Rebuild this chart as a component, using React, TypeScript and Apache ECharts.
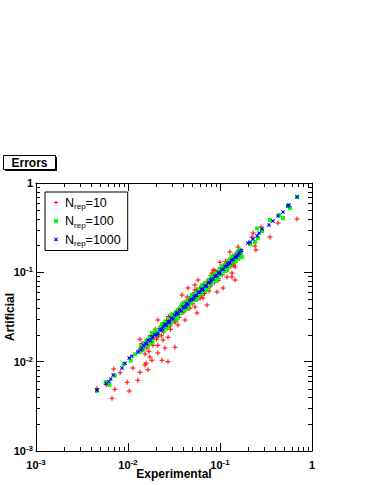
import React, { useEffect, useRef } from "react";
import * as echarts from "echarts";

const SERIES_NAMES = ["N_rep=10", "N_rep=100", "N_rep=1000"];
const AXIS_MIN = 0.001;
const AXIS_MAX = 1;
const MINOR_TICKS = [
  0.002, 0.003, 0.004, 0.005, 0.006, 0.007, 0.008, 0.009,
  0.02, 0.03, 0.04, 0.05, 0.06, 0.07, 0.08, 0.09,
  0.2, 0.3, 0.4, 0.5, 0.6, 0.7, 0.8, 0.9,
];

const RED_POINTS: [number, number][] = [
  [0.0046, 0.005], [0.0067, 0.0039], [0.0103, 0.0047], [0.0098, 0.0059], [0.0128, 0.0062],
  [0.0072, 0.0049], [0.0058, 0.0055], [0.0082, 0.0075], [0.0135, 0.0076], [0.0157, 0.0096],
  [0.0165, 0.0081], [0.0113, 0.0085], [0.0153, 0.0122], [0.0169, 0.0131], [0.0187, 0.0153],
  [0.0211, 0.0153], [0.0135, 0.0178], [0.0132, 0.0135], [0.007, 0.0083], [0.0145, 0.0135],
  [0.0173, 0.0113], [0.0234, 0.0104], [0.0272, 0.01], [0.0211, 0.0125], [0.0252, 0.0142],
  [0.024, 0.0175], [0.0207, 0.0188], [0.0211, 0.0292], [0.0349, 0.0257], [0.0417, 0.0292],
  [0.0535, 0.041], [0.0562, 0.035], [0.0324, 0.0145], [0.0272, 0.0188], [0.0182, 0.0104],
  [0.0153, 0.0092], [0.128, 0.169], [0.157, 0.192], [0.1, 0.13], [0.084, 0.106],
  [0.119, 0.0886], [0.135, 0.0886], [0.146, 0.115], [0.0577, 0.082], [0.0449, 0.0667],
  [0.108, 0.0667], [0.0927, 0.0601], [0.0653, 0.0515], [0.0723, 0.0431], [0.0562, 0.0601],
  [0.0535, 0.0721], [0.687, 0.395], [0.427, 0.356], [0.349, 0.248], [0.246, 0.178],
  [0.24, 0.197], [0.229, 0.275], [0.279, 0.322], [0.222, 0.249], [0.0386, 0.0557],
  [0.0607, 0.0515], [0.0535, 0.0634], [0.082, 0.098], [0.146, 0.082], [0.135, 0.098],
  [0.0252, 0.0272],
  [0.019, 0.02], [0.0205, 0.0178], [0.0225, 0.0245], [0.0245, 0.0215], [0.0262, 0.029],
  [0.0285, 0.025], [0.03, 0.033], [0.0318, 0.028], [0.034, 0.0375], [0.036, 0.0315],
  [0.0385, 0.0425], [0.0405, 0.036], [0.043, 0.048], [0.0455, 0.04], [0.048, 0.053],
  [0.0505, 0.0445], [0.0535, 0.0595], [0.0565, 0.05], [0.06, 0.0665], [0.063, 0.0555],
  [0.0665, 0.074], [0.07, 0.0615], [0.074, 0.082], [0.078, 0.069], [0.082, 0.091],
  [0.0865, 0.0765], [0.091, 0.101], [0.096, 0.085], [0.101, 0.112], [0.1065, 0.094],
  [0.112, 0.124], [0.118, 0.104], [0.1245, 0.138], [0.131, 0.116], [0.138, 0.153],
  [0.145, 0.129], [0.153, 0.168], [0.161, 0.143],
  [0.0142, 0.016], [0.016, 0.0142], [0.0176, 0.0196], [0.0198, 0.023], [0.023, 0.0195],
  [0.0275, 0.032], [0.033, 0.028], [0.0395, 0.0455], [0.047, 0.0395], [0.056, 0.064],
  [0.068, 0.058], [0.08, 0.092], [0.095, 0.081], [0.115, 0.132], [0.14, 0.12],
  [0.029, 0.023], [0.044, 0.053], [0.076, 0.062], [0.088, 0.105],
];

const GREEN_POINTS: [number, number][] = [
  [0.0046, 0.0047], [0.0057, 0.0059], [0.0063, 0.0055], [0.0072, 0.007], [0.009, 0.0094],
  [0.0107, 0.0103], [0.012, 0.0121], [0.0135, 0.013], [0.015, 0.0155], [0.0182, 0.0209],
  [0.0198, 0.0212],
  [0.0138, 0.015], [0.0145, 0.0136], [0.0158, 0.017], [0.0165, 0.0152], [0.0172, 0.0185],
  [0.0178, 0.0162], [0.0192, 0.021],
  [0.0185, 0.017], [0.02, 0.0225], [0.0215, 0.0198], [0.0228, 0.0245], [0.024, 0.0222],
  [0.0255, 0.028], [0.0268, 0.025], [0.028, 0.03], [0.0292, 0.0268], [0.0305, 0.0335],
  [0.032, 0.0295], [0.0332, 0.0358], [0.0345, 0.0318], [0.0362, 0.0395], [0.0378, 0.035],
  [0.0392, 0.042], [0.041, 0.038], [0.0428, 0.0465], [0.0445, 0.041], [0.0465, 0.0505],
  [0.0485, 0.045], [0.0505, 0.0545], [0.0528, 0.0488], [0.055, 0.0595], [0.0572, 0.053],
  [0.0598, 0.065], [0.0622, 0.0575], [0.0648, 0.07], [0.0675, 0.062], [0.0702, 0.076],
  [0.0732, 0.068], [0.0765, 0.083], [0.0795, 0.0735], [0.083, 0.09], [0.0865, 0.08],
  [0.0905, 0.098], [0.094, 0.087], [0.0985, 0.106], [0.1025, 0.095], [0.107, 0.115],
  [0.1115, 0.103], [0.1165, 0.125], [0.121, 0.112], [0.1265, 0.135], [0.132, 0.122],
  [0.1375, 0.147], [0.143, 0.133], [0.15, 0.158], [0.156, 0.145], [0.163, 0.172],
  [0.169, 0.158], [0.165, 0.148],
  [0.0235, 0.0265], [0.0262, 0.0235], [0.0298, 0.0338], [0.0338, 0.03], [0.0385, 0.0435],
  [0.0438, 0.039], [0.0495, 0.056], [0.056, 0.05], [0.0635, 0.0718], [0.0718, 0.064],
  [0.081, 0.0915], [0.0915, 0.0815], [0.104, 0.117], [0.118, 0.105], [0.134, 0.15],
  [0.148, 0.133], [0.158, 0.172],
  [0.165, 0.178], [0.173, 0.148], [0.24, 0.218], [0.258, 0.242], [0.212, 0.207],
  [0.287, 0.29], [0.349, 0.385], [0.44, 0.44], [0.484, 0.405], [0.577, 0.525],
  [0.55, 0.555], [0.69, 0.7], [0.253, 0.31],
];

const BLUE_POINTS: [number, number][] = [
  [0.0046, 0.0048], [0.0058, 0.0057], [0.0062, 0.006], [0.0065, 0.0064], [0.0069, 0.0071],
  [0.0086, 0.0085], [0.0093, 0.0096], [0.0103, 0.011], [0.011, 0.0115], [0.0128, 0.0128],
  [0.0138, 0.0136], [0.0142, 0.0142], [0.0153, 0.0161], [0.0165, 0.0175], [0.0187, 0.0189],
  [0.0207, 0.0199],
  [0.0148, 0.015], [0.016, 0.0158], [0.0175, 0.0172], [0.0182, 0.0186],
  [0.0195, 0.0201], [0.0212, 0.0208], [0.0221, 0.0228], [0.023, 0.0225], [0.0242, 0.0246],
  [0.0251, 0.0262], [0.026, 0.0255], [0.0272, 0.028], [0.0285, 0.0281], [0.0296, 0.0305],
  [0.031, 0.03], [0.0322, 0.033], [0.0335, 0.0342], [0.035, 0.0345], [0.0366, 0.0378],
  [0.038, 0.0372], [0.0398, 0.041], [0.0415, 0.0405], [0.0432, 0.0445], [0.045, 0.044],
  [0.047, 0.0482], [0.049, 0.0498], [0.0512, 0.0505], [0.0535, 0.055], [0.0556, 0.0548],
  [0.058, 0.0595], [0.0605, 0.0598], [0.063, 0.0648], [0.0655, 0.065], [0.0685, 0.07],
  [0.0712, 0.0705], [0.0745, 0.0765], [0.0778, 0.077], [0.081, 0.0835], [0.0845, 0.084],
  [0.088, 0.0905], [0.092, 0.0915], [0.096, 0.0985], [0.1, 0.099], [0.1045, 0.1075],
  [0.109, 0.108], [0.1135, 0.116], [0.118, 0.117], [0.123, 0.1265], [0.1285, 0.1275],
  [0.134, 0.137], [0.14, 0.139], [0.146, 0.148], [0.152, 0.153], [0.158, 0.156],
  [0.165, 0.17], [0.172, 0.175],
  [0.0237, 0.0233], [0.0278, 0.0272], [0.0343, 0.0352], [0.0425, 0.0418], [0.0522, 0.053],
  [0.0642, 0.0632], [0.0795, 0.0805], [0.0985, 0.0965], [0.121, 0.1225], [0.149, 0.147],
  [0.161, 0.1635],
  [0.201, 0.213], [0.212, 0.218], [0.229, 0.236], [0.253, 0.255], [0.266, 0.275],
  [0.287, 0.306], [0.341, 0.339], [0.377, 0.375], [0.427, 0.427], [0.484, 0.473],
  [0.548, 0.552], [0.563, 0.567], [0.687, 0.697],
];

const FONT = "'Liberation Sans', Arial, Helvetica, sans-serif";
const PLUS = "path://M2,0H3V2H5V3H3V5H2V3H0V2H2Z";
const CROSS = "path://M0,1L1,0L2.5,1.5L4,0L5,1L3.5,2.5L5,4L4,5L2.5,3.5L1,5L0,4L1.5,2.5Z";

const tickLabel = (v: number) => {
  const e = Math.round(Math.log10(v));
  return e === 0 ? "{b|1}" : `{b|10}{s|${e}}`;
};

const labelRich = {
  b: { fontSize: 11, fontWeight: "bold" as const, fontFamily: FONT, color: "#000", lineHeight: 13 },
  s: { fontSize: 8, fontWeight: "bold" as const, fontFamily: FONT, color: "#000", lineHeight: 8, verticalAlign: "top" as const },
};

const logAxis = (position: string, showLabel: boolean, margin: number) => ({
  type: "log" as const,
  logBase: 10,
  min: AXIS_MIN,
  max: AXIS_MAX,
  position,
  axisLine: { show: true, lineStyle: { color: "#000", width: 1 } },
  axisTick: { show: true, inside: true, length: 8, lineStyle: { color: "#000", width: 1 } },
  axisLabel: { show: showLabel, formatter: tickLabel, rich: labelRich, margin },
  splitLine: { show: false },
  minorTick: { show: false },
});

export default function App() {
  const ref = useRef<HTMLDivElement>(null);
  useEffect(() => {
    if (!ref.current) return;
    const chart = echarts.init(ref.current, null, { renderer: "svg" });
    const legendFormatter = (name: string) => {
      const num = name.split("=")[1];
      return `{n|N}{s|rep}{n|=${num}}`;
    };
    chart.setOption({
      animation: false,
      backgroundColor: "#fff",
      grid: { left: 36, top: 183, right: 63, bottom: 34, containLabel: false },
      xAxis: [logAxis("bottom", true, 7), logAxis("top", false, 7)],
      yAxis: [logAxis("left", true, 3), logAxis("right", false, 3)],
      legend: {
        data: SERIES_NAMES,
        orient: "vertical",
        left: 45,
        top: 192,
        backgroundColor: "#fff",
        borderColor: "#000",
        borderWidth: 1,
        borderRadius: 0,
        padding: [4, 7, 3, 9],
        itemGap: 4,
        itemWidth: 4,
        itemHeight: 4,
        selectedMode: false,
        formatter: legendFormatter,
        textStyle: {
          padding: [0, 0, 0, 2],
          rich: {
            n: { fontSize: 12.5, fontFamily: FONT, color: "#000", lineHeight: 16 },
            s: { fontSize: 8, fontFamily: FONT, color: "#000", lineHeight: 7, verticalAlign: "bottom" },
          },
        },
      },
      graphic: [
        { type: "rect", shape: { x: 5, y: 157, width: 52, height: 14 }, style: { fill: "#000" }, silent: true },
        { type: "rect", shape: { x: 3.5, y: 155.5, width: 52, height: 14 }, style: { fill: "#fff", stroke: "#000", lineWidth: 1 }, silent: true },
        { type: "text", x: 29.5, y: 162.5, style: { text: "Errors", fontSize: 12, fontWeight: "bold", fontFamily: FONT, fill: "#000", align: "center", verticalAlign: "middle" }, silent: true },
        { type: "text", x: 174, y: 474, style: { text: "Experimental", fontSize: 12, fontWeight: "bold", fontFamily: FONT, fill: "#000", align: "center", verticalAlign: "middle" }, silent: true },
        { type: "text", x: 10, y: 317, rotation: Math.PI / 2, style: { text: "Artificial", fontSize: 12, fontWeight: "bold", fontFamily: FONT, fill: "#000", align: "center", verticalAlign: "middle" }, silent: true },
      ],
      series: [
        {
          type: "custom",
          name: "minorTicks",
          silent: true,
          clip: false,
          data: MINOR_TICKS.map((v) => [v, v]),
          renderItem: (_params: any, api: any) => {
            const v = api.value(0);
            const b = api.coord([v, AXIS_MIN]);
            const t = api.coord([v, AXIS_MAX]);
            const l = api.coord([AXIS_MIN, v]);
            const r = api.coord([AXIS_MAX, v]);
            const st = { stroke: "#000", lineWidth: 1 };
            const cx = Math.round(b[0]) + 0.5;
            const cy = Math.round(l[1]) + 0.5;
            return {
              type: "group",
              children: [
                { type: "line", shape: { x1: cx, y1: b[1], x2: cx, y2: b[1] - 4 }, style: st },
                { type: "line", shape: { x1: cx, y1: t[1], x2: cx, y2: t[1] + 4 }, style: st },
                { type: "line", shape: { x1: l[0], y1: cy, x2: l[0] + 4, y2: cy }, style: st },
                { type: "line", shape: { x1: r[0], y1: cy, x2: r[0] - 4, y2: cy }, style: st },
              ],
            };
          },
        },
        {
          type: "scatter",
          name: SERIES_NAMES[0],
          data: RED_POINTS,
          symbol: PLUS,
          symbolSize: 5,
          itemStyle: { color: "#ff0000", opacity: 1 },
        },
        {
          type: "scatter",
          name: SERIES_NAMES[1],
          data: GREEN_POINTS,
          symbol: "rect",
          symbolSize: 4,
          itemStyle: { color: "#00ff00", opacity: 1 },
        },
        {
          type: "scatter",
          name: SERIES_NAMES[2],
          data: BLUE_POINTS,
          symbol: CROSS,
          symbolSize: 4,
          itemStyle: { color: "#0000ff", opacity: 1 },
        },
      ],
    });
    return () => chart.dispose();
  }, []);
  return <div ref={ref} style={{ position: "fixed", left: 0, top: 0, width: 375, height: 485 }} />;
}
